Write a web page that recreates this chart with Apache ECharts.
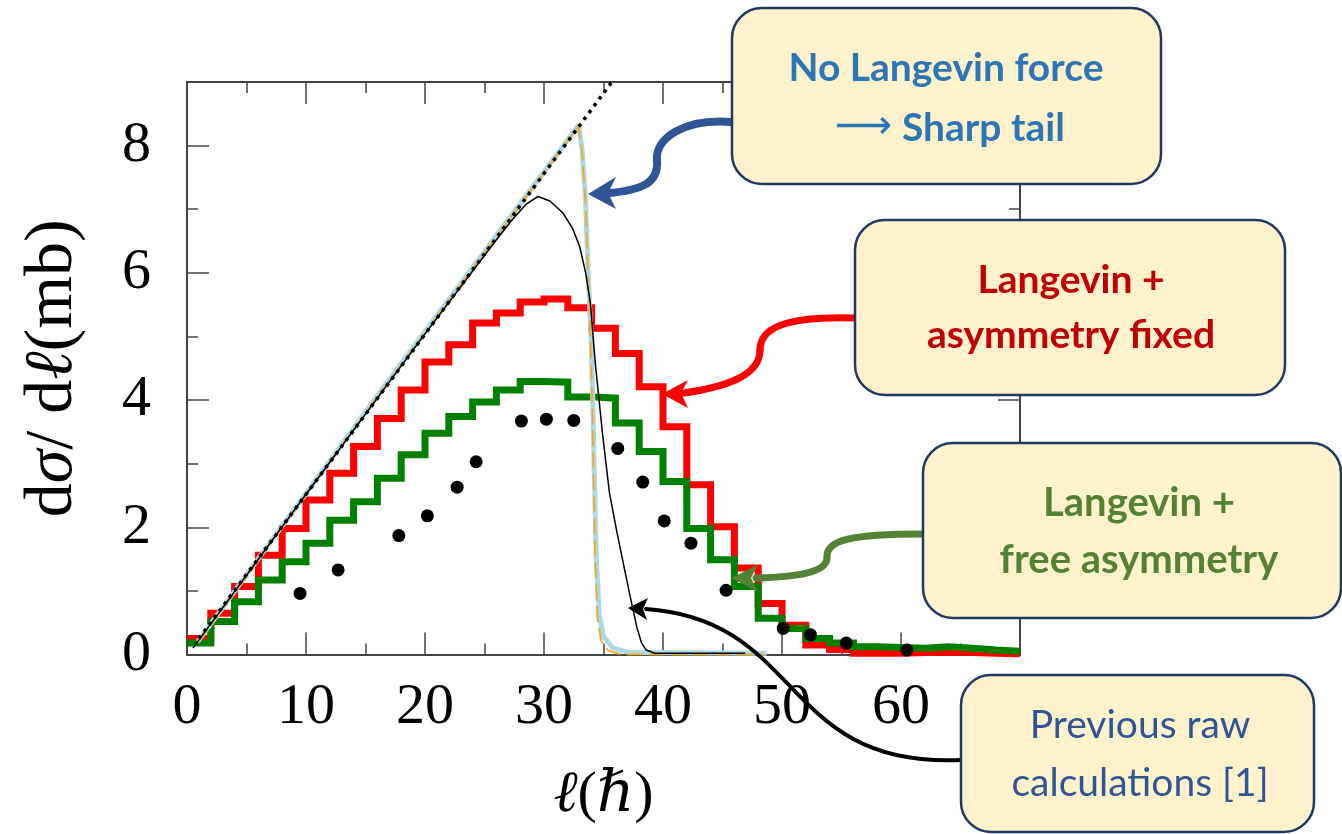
<!DOCTYPE html>
<html><head><meta charset="utf-8">
<script src="https://cdn.jsdelivr.net/npm/echarts@6/dist/echarts.min.js"></script>
<style>html,body{margin:0;padding:0;background:#fff}#c{width:1342px;height:834px}</style>
</head><body><div id="c"></div>
<script>
// ---- data ----
const binEdges = [0,2,4,6,8,10,12,14,16,18,20,22,24,26,28,30,32,34,36,38,40,42,44,46,48,50,52,54,56,58,60,62,64,66,68,70];
const redHist = [0.25,0.65,1.07,1.56,1.98,2.43,2.85,3.27,3.71,4.16,4.60,4.87,5.21,5.37,5.54,5.59,5.45,5.13,4.73,4.21,3.58,2.67,2.01,1.36,0.80,0.46,0.15,0.08,0.02,0.02,0.03,0.04,0.03,0.02,0.01];
const greenHist = [0.18,0.52,0.83,1.17,1.46,1.75,2.11,2.40,2.77,3.14,3.48,3.74,3.97,4.16,4.29,4.28,4.05,4.03,3.64,3.19,2.72,1.98,1.49,1.07,0.57,0.41,0.25,0.18,0.12,0.11,0.10,0.12,0.10,0.07,0.05];
const dotsL = [9.5,12.7,17.8,20.2,22.7,24.3,28.1,30.2,32.5,36.2,38.3,40.1,42.35,45.3,50.1,52.4,55.4,60.5];
const dotsV = [0.96,1.33,1.87,2.18,2.63,3.03,3.67,3.70,3.68,3.24,2.71,2.10,1.75,1.01,0.41,0.31,0.18,0.07];
const sharpL = [0.9,16,32.9,33.2,33.5,33.7,33.95,34.1,34.2,34.4,34.65,35.0,35.8,37.2,48.7];
const sharpV = [0.2,4.07,8.32,7.95,7.1,6.05,5.0,4.0,3.06,1.5,0.6,0.28,0.1,0.03,0.02];
const orangeL = [0.9,16,32.9,33.2,33.5,33.7,33.9,34.05,34.15,34.3,34.5,34.8,35.4,36.5,48.5];
const orangeV = [0.18,4.05,8.3,7.9,7.05,6.0,5.0,4.0,3.0,1.5,0.55,0.22,0.06,0.0,0.0];
const prevL = [0.5,10,20,26,27.4,28.5,29.5,30.5,31.6,32.4,33.0,33.5,33.9,34.3,34.9,35.5,36.1,36.6,37.2,37.8,38.2,38.6,39.3,46.9];
const prevV = [0.1,2.52,5.04,6.52,6.85,7.08,7.2,7.13,6.94,6.7,6.41,6.0,5.52,4.6,3.5,2.54,1.95,1.49,0.95,0.43,0.18,0.07,0.02,0.02];
const limitL = [1.0,18,35.7];
const limitV = [0.25,4.53,9.0];
const xTicks = [0,10,20,30,40,50,60,70];
const yTicks = [0,2,4,6,8];

// ---- build ----
function hist(vals){const d=[];vals.forEach((v,i)=>{d.push([binEdges[i],v]);d.push([binEdges[i+1],v]);});return d;}
function pairs(a,b){return a.map((x,i)=>[x,b[i]]);}
const serif = "'Liberation Serif','DejaVu Serif',serif";
const sans = "Lato,'Open Sans',sans-serif";
const axisCol = '#444';

const chart = echarts.init(document.getElementById('c'), null, {renderer:'canvas'});

function xAx(pos, labels){
  return {type:'value', position:pos, min:0, max:70, interval:10, gridIndex:0,
    axisLine:{show:true,onZero:false,lineStyle:{color:axisCol,width:2}},
    axisTick:{show:true,inside:true,length:22,lineStyle:{color:axisCol,width:1.5}},
    minorTick:{show:true,splitNumber:2,length:11,lineStyle:{color:axisCol,width:1.5}},
    splitLine:{show:false}, minorSplitLine:{show:false},
    axisLabel:{show:labels, margin:24, color:'#000', fontFamily:serif, fontSize:58,
      formatter:v=>xTicks.indexOf(v)>=0?String(v):''},
    name: labels?'{i|ℓ}{r|(}{i|ℏ}{r|)}':'', nameLocation:'middle', nameGap:112,
    nameTextStyle:{rich:{i:{fontFamily:serif,fontStyle:'italic',fontSize:58,color:'#000'},r:{fontFamily:serif,fontSize:58,color:'#000'}}}
  };
}
function yAx(pos, interval, len, labels){
  return {type:'value', position:pos, min:0, max:9, interval:interval, gridIndex:0,
    axisLine:{show:true,onZero:false,lineStyle:{color:axisCol,width:2}},
    axisTick:{show:true,inside:true,length:len,lineStyle:{color:axisCol,width:1.5}},
    splitLine:{show:false},
    axisLabel:{show:labels, margin:36, color:'#000', fontFamily:serif, fontSize:58,
      formatter:v=>yTicks.indexOf(v)>=0?String(v):''},
    name: labels?'{r|d}{i|σ}{r|/ d}{i|ℓ}{r|(mb)}':'', nameLocation:'middle', nameGap:100, nameRotate:90,
    nameTextStyle:{rich:{i:{fontFamily:serif,fontStyle:'italic',fontSize:68,color:'#000'},r:{fontFamily:serif,fontSize:68,color:'#000'}}}
  };
}

const boxStyle = {fill:'#fff2cc', stroke:'#203864', lineWidth:2.5};
function box(x,y,w,h){return {type:'rect', shape:{x:x,y:y,width:w,height:h,r:30}, style:boxStyle, z:100};}
function txt(x,y,t,color,bold,size,rich){return {type:'text', x:x, y:y, z:101, style:{text:t, fill:color, font:(bold?'bold ':'')+size+'px '+sans, align:'center', verticalAlign:'middle', rich:rich}};}
function curve(x1,y1,c1x,c1y,c2x,c2y,x2,y2,color,w){return {type:'bezierCurve', z:99, shape:{x1:x1,y1:y1,cpx1:c1x,cpy1:c1y,cpx2:c2x,cpy2:c2y,x2:x2,y2:y2}, style:{stroke:color,lineWidth:w,fill:null,lineCap:'round'}};}
function head(pts,color){return {type:'polygon', z:99, shape:{points:pts}, style:{fill:color}};}

const blue='#2f5597', red='#ff0000', green='#548235', lblue='#2e75b6';

const option = {
  animation:false,
  backgroundColor:'#fff',
  grid:{left:187, right:322, top:82, bottom:179.5, containLabel:false},
  xAxis:[xAx('bottom',true), xAx('top',false)],
  yAxis:[yAx('left',2,22,true), yAx('left',1,11,false), yAx('right',2,22,false), yAx('right',1,11,false)],
  series:[
    {type:'line', data:hist(redHist), showSymbol:false, lineStyle:{color:'#ff0000',width:7,join:'miter'}, z:2},
    {type:'line', data:hist(greenHist), showSymbol:false, lineStyle:{color:'#008000',width:7,join:'miter'}, z:3},
    {type:'line', data:pairs(sharpL,sharpV), showSymbol:false, lineStyle:{color:'#add8e6',width:5}, z:4},
    {type:'line', data:pairs(orangeL,orangeV), showSymbol:false, lineStyle:{color:'#f5a623',width:1.8,type:[16,6]}, z:5},
    {type:'line', data:pairs(prevL,prevV), showSymbol:false, lineStyle:{color:'#000',width:1.5}, z:6},
    {type:'line', data:pairs(limitL,limitV), showSymbol:false, lineStyle:{color:'#000',width:3.5,type:[3.5,5]}, z:7},
    {type:'scatter', data:pairs(dotsL,dotsV), symbolSize:13, itemStyle:{color:'#000',opacity:1}, z:8}
  ],
  graphic:[
    // arrows
    curve(732,122,685,118,655,138,657,160,blue,8),
    curve(657,160,659,184,640,190,610,193,blue,8),
    head([[588,194],[616,177],[608,193],[616,209]],blue),
    curve(855,318,785,316,760,328,760,350,red,7),
    curve(760,350,760,376,725,387,684,393,red,7),
    head([[662,394],[688,380],[681,393],[688,408]],red),
    curve(922,534,852,534,826,540,827,557,green,7),
    curve(827,557,828,573,795,577,756,578,green,7),
    head([[731,578],[758,565],[751,578],[758,592]],green),
    curve(961,760,780,768,805,620,646,609,'#000',4),
    head([[628,608],[648,598],[643,609],[647,620]],'#000'),
    // boxes
    box(732,8,429,176),
    txt(946,68,'No Langevin force',lblue,true,39),
    txt(950,128,'{a|⟶} {b|Sharp tail}',lblue,true,39,{a:{font:"40px 'DejaVu Sans'",fill:lblue},b:{font:'bold 39px '+sans,fill:lblue}}),
    box(855,220,430,175),
    txt(1071,280,'Langevin +','#c00000',true,39),
    txt(1071,335,'asymmetry fixed','#c00000',true,39),
    box(923,443,418,175),
    txt(1139,503,'Langevin +',green,true,40),
    txt(1139,560,'free asymmetry',green,true,40),
    box(961,675,353,157),
    txt(1140,725,'Previous raw','#2f5597',false,39),
    txt(1140,783,'calculations [1]','#2f5597',false,39)
  ]
};
chart.setOption(option);
</script></body></html>
